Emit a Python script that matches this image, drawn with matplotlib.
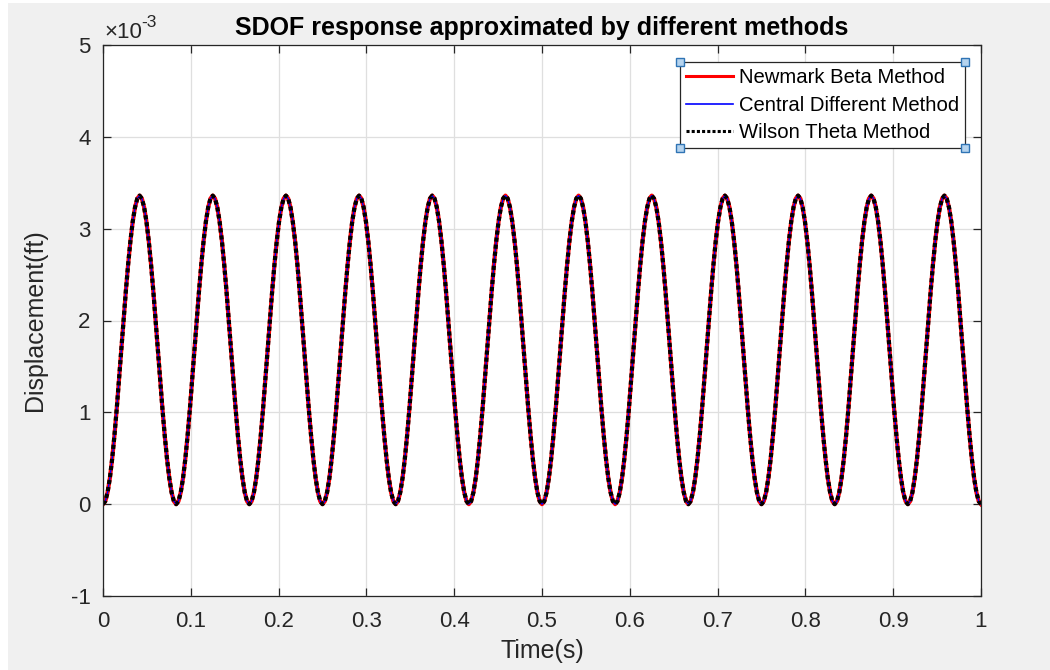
import matplotlib
matplotlib.use('Agg')
import matplotlib.pyplot as plt
from matplotlib.patches import Rectangle
import numpy as np

plt.rcParams['font.family'] = ['Liberation Sans', 'DejaVu Sans']
plt.rcParams['axes.unicode_minus'] = False

# one cycle of the response (x 1e-3 ft) at 1/32 period steps
cycle_disp = [0.0, 0.032, 0.128, 0.283, 0.492, 0.747, 1.037, 1.352,
              1.68, 2.008, 2.323, 2.613, 2.868, 3.077, 3.232, 3.328,
              3.36, 3.328, 3.232, 3.077, 2.868, 2.613, 2.323, 2.008,
              1.68, 1.352, 1.037, 0.747, 0.492, 0.283, 0.128, 0.032]
period = 1 / 12          # 12 peaks between 0 and 1 s
n_cycles = 12

x_ticks = [0, 0.1, 0.2, 0.3, 0.4, 0.5, 0.6, 0.7, 0.8, 0.9, 1]
x_labels = ['0', '0.1', '0.2', '0.3', '0.4', '0.5', '0.6', '0.7', '0.8', '0.9', '1']
y_ticks = [-1, 0, 1, 2, 3, 4, 5]
y_labels = ['-1', '0', '1', '2', '3', '4', '5']

labels = ['Newmark Beta Method', 'Central Different Method', 'Wilson Theta Method']

disp = np.array(cycle_disp * n_cycles + [0.0])
t = np.linspace(0, period * n_cycles, len(disp))

fig = plt.figure(figsize=(10.5, 6.7), dpi=100, facecolor='white')
# grey figure background (screenshot has a thin white margin left/top)
fig.patches.append(Rectangle((8 / 1050, 0), 1, 667 / 670, transform=fig.transFigure,
                             facecolor='#f0f0f0', edgecolor='none', zorder=-10))

ax = fig.add_axes([103 / 1050, 74 / 670, 878 / 1050, 551 / 670])
ax.set_facecolor('white')

ax.plot(t, disp, color='red', lw=3.0, label=labels[0])
ax.plot(t, disp, color='blue', lw=1.0, label=labels[1])
ax.plot(t, disp, color='black', lw=3.0, ls=(0, (1, 0.7)), label=labels[2])

ax.set_xlim(0, 1)
ax.set_ylim(-1, 5)
ax.set_xticks(x_ticks)
ax.set_xticklabels(x_labels)
ax.set_yticks(y_ticks)
ax.set_yticklabels(y_labels)

ax.grid(True, color='#dfdfdf', lw=0.9)
ax.set_axisbelow(True)
for s in ax.spines.values():
    s.set_color('#262626')
    s.set_linewidth(0.9)
ax.tick_params(direction='in', length=5.5, width=0.9, colors='#262626',
               labelsize=16, top=True, right=True, pad=11)
ax.tick_params(axis='y', pad=9)

ax.set_title('SDOF response approximated by different methods', fontsize=18,
             fontweight='bold', pad=7)
ax.set_xlabel('Time(s)', fontsize=18, color='#262626', labelpad=5)
ax.set_ylabel('Displacement(ft)', fontsize=18, color='#262626', labelpad=17)

ax.text(0.002, 1.004, '×10', transform=ax.transAxes, fontsize=16, color='#262626',
        ha='left', va='bottom')
ax.text(0.043, 1.028, '-3', transform=ax.transAxes, fontsize=12.5, color='#262626',
        ha='left', va='bottom')

leg = ax.legend(loc='upper right', bbox_to_anchor=(965 / 1050, 608 / 670),
                bbox_transform=fig.transFigure, borderaxespad=0, fontsize=14.6,
                fancybox=False, framealpha=1, edgecolor='#262626',
                handlelength=2.3, handletextpad=0.3, borderpad=0.3,
                labelspacing=0.42)
leg.get_frame().set_linewidth(0.9)
for line in leg.get_lines():
    line.set_linewidth(2.2)
leg.get_lines()[1].set_linewidth(1.2)

# selection handles at legend corners
fig.canvas.draw()
bb = leg.get_window_extent().transformed(fig.transFigure.inverted())
hw, hh = 8 / 1050, 8 / 670
for cx in (bb.x0, bb.x1):
    for cy in (bb.y0, bb.y1):
        fig.patches.append(Rectangle((cx - hw / 2, cy - hh / 2), hw, hh,
                                     transform=fig.transFigure, facecolor='#b5d3ee',
                                     edgecolor='#2f74b5', lw=1.0, zorder=10))

fig.savefig('out.png', dpi=100, facecolor=fig.get_facecolor())
